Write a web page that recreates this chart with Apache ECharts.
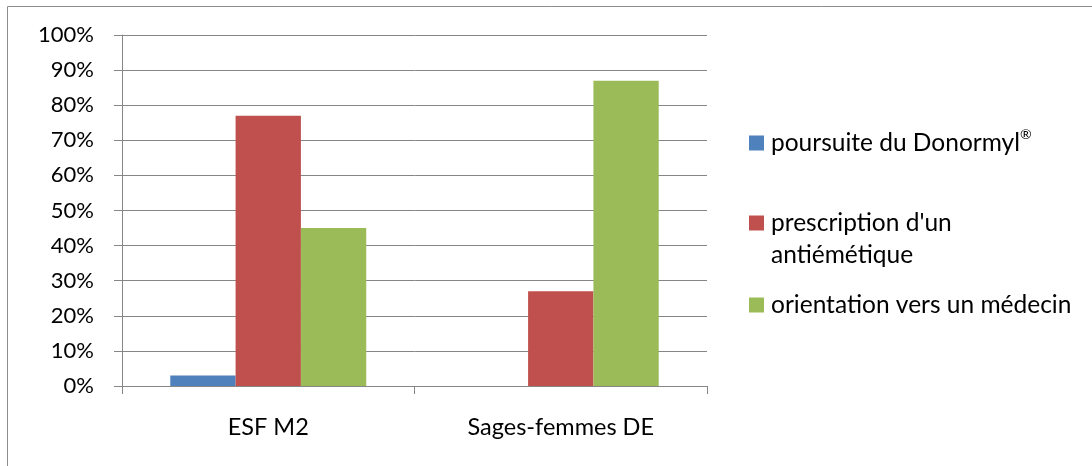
<!DOCTYPE html>
<html>
<head>
<meta charset="utf-8">
<script src="https://cdn.jsdelivr.net/npm/echarts@6/dist/echarts.min.js"></script>
<style>
  html, body { margin: 0; padding: 0; background: #fff; }
  #bars { width: 1092px; height: 466px; }
</style>
</head>
<body>
<div id="bars"></div>
<script>
// données (en %)
var categories = ['ESF M2', 'Sages-femmes DE']
var seriesNames = ['poursuite du Donormyl®', "prescription d'un\nantiémétique", 'orientation vers un médecin']
var donormyl = [3, 0]
var antiemetique = [77, 27]
var medecin = [45, 87]
var yTicks = [0, 10, 20, 30, 40, 50, 60, 70, 80, 90, 100]

var colors = ['#4F81BD', '#C0504D', '#9BBB59']
var gridColor = '#868686'
var font = 'Lato'

var chart = echarts.init(document.getElementById('bars'))

// une légende par série pour placer chaque entrée comme dans Excel
function legendAt (name, top) {
  return {
    data: [name],
    left: 749,
    top: top,
    padding: 0,
    itemWidth: 15,
    itemHeight: 15,
    icon: 'rect',
    selectedMode: false,
    // ligne vide devant les noms sur 2 lignes : le carré reste sur la 1re ligne
    formatter: function (n) {
      if (n.indexOf('\n') >= 0) return '\n' + n
      return n.replace('®', '{sup|®}')
    },
    textStyle: {
      fontFamily: font,
      fontSize: 24.5,
      color: '#000',
      lineHeight: 32,
      padding: [0, 0, 0, 2],
      rich: {
        sup: { fontFamily: font, fontSize: 14, color: '#000', lineHeight: 22, verticalAlign: 'top' }
      }
    }
  }
}

var option = {
  animation: false,
  color: colors,
  graphic: [{
    type: 'rect',
    shape: { x: 7.5, y: 6.5, width: 1200, height: 600 },
    style: { fill: 'none', stroke: '#8c8c8c', lineWidth: 1 },
    silent: true
  }],
  legend: [
    legendAt(seriesNames[0], 127),
    legendAt(seriesNames[1], 175),
    legendAt(seriesNames[2], 289)
  ],
  grid: {
    left: 122,
    right: 385,
    top: 35,
    bottom: 80,
    containLabel: false
  },
  xAxis: {
    type: 'category',
    data: categories,
    axisLine: { lineStyle: { color: gridColor, width: 1 } },
    axisTick: { show: true, length: 8, lineStyle: { color: gridColor } },
    axisLabel: { fontFamily: font, fontSize: 23.5, color: '#000', margin: 29 }
  },
  yAxis: {
    type: 'value',
    min: yTicks[0],
    max: yTicks[yTicks.length - 1],
    interval: yTicks[1] - yTicks[0],
    axisLine: { show: true, lineStyle: { color: gridColor, width: 1 } },
    axisTick: { show: true, length: 8, lineStyle: { color: gridColor } },
    splitLine: { lineStyle: { color: gridColor, width: 1 } },
    axisLabel: {
      fontFamily: font,
      fontSize: 22,
      color: '#000',
      margin: 28,
      formatter: '{value}%'
    }
  },
  series: [
    { name: seriesNames[0], type: 'bar', data: donormyl, barGap: 0, barCategoryGap: '33%' },
    { name: seriesNames[1], type: 'bar', data: antiemetique, barGap: 0, barCategoryGap: '33%' },
    { name: seriesNames[2], type: 'bar', data: medecin, barGap: 0, barCategoryGap: '33%' }
  ]
}
chart.setOption(option)
</script>
</body>
</html>
